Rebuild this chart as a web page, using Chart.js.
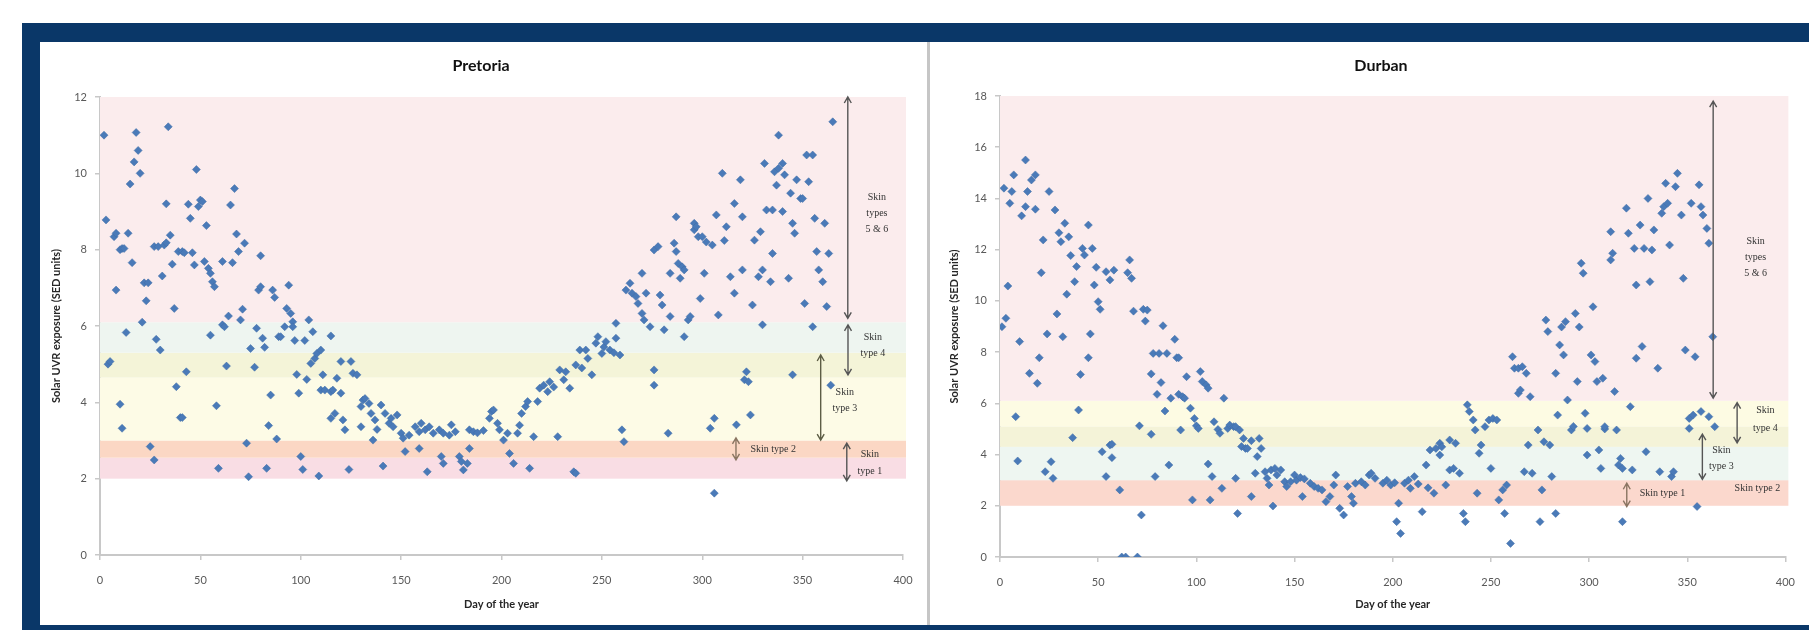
<!DOCTYPE html>
<html>
<head>
<meta charset="utf-8">
<script src="https://cdn.jsdelivr.net/npm/chart.js@4.4.1/dist/chart.umd.min.js"></script>
<style>
  html, body { margin: 0; padding: 0; background: #fff; }
  #page { position: relative; width: 1809px; height: 630px; overflow: hidden; background: #fff; }
  #frame { position: absolute; left: 22px; top: 23px; width: 1787px; height: 607px; background: #0a3768; }
  .panel { position: absolute; top: 42px; height: 583px; background: #fff; }
  #p1 { left: 40px; width: 887px; }
  #p2 { left: 930px; width: 879px; }
  #divider { position: absolute; left: 927px; top: 42px; width: 3px; height: 583px; background: #c6c6c6; }
</style>
</head>
<body>
<div id="page">
  <div id="frame"></div>
  <div class="panel" id="p1"><canvas id="pretoria" width="887" height="583"></canvas></div>
  <div id="divider"></div>
  <div class="panel" id="p2"><canvas id="durban" width="879" height="583"></canvas></div>
</div>
<script>
// ---- data ----
// Pretoria : day of year / daily SED
const pretoriaDay = [2,3,4,5,7,8,8,10,10,11,11,12,13,14,15,16,17,18,19,20,21,22,23,24,25,27,27,28,29,30,31,32,33,33,34,35,36,37,38,39,40,41,41,42,43,44,45,46,47,48,49,50,51,52,53,54,55,55,56,57,58,59,61,61,62,63,64,65,66,67,68,69,70,71,72,73,74,75,77,78,79,80,80,81,82,83,84,85,86,87,88,89,90,92,93,94,95,96,96,97,98,99,100,101,102,103,104,105,106,107,108,109,110,110,111,112,115,115,115,116,117,118,120,120,121,122,124,125,126,128,130,130,131,132,134,135,136,137,138,140,141,142,144,145,146,148,150,151,152,154,157,159,159,160,162,163,164,166,169,170,171,171,174,175,177,179,180,181,183,184,184,186,188,191,194,195,196,198,199,201,203,204,206,208,209,210,212,213,214,216,218,219,221,223,224,226,228,229,231,232,234,236,237,237,239,240,242,243,245,247,248,250,251,252,254,256,257,257,259,260,261,262,264,265,267,268,270,270,271,272,274,276,276,276,278,279,280,281,283,284,284,286,287,287,288,289,290,291,291,293,294,296,296,297,298,299,300,301,302,304,305,306,306,307,308,310,311,312,314,316,316,317,319,320,320,321,322,323,324,325,326,328,329,330,330,331,332,334,335,335,336,337,338,338,340,340,341,343,344,345,345,346,347,349,350,351,352,353,355,355,356,357,358,360,361,362,363,364,365];
const pretoriaSED = [11.0,8.78,5.0,5.07,8.34,8.43,6.94,8.0,3.95,3.32,8.03,8.03,5.83,8.43,9.72,7.66,10.3,11.07,10.6,10.0,6.1,7.13,6.66,7.13,2.84,2.49,8.08,5.65,8.08,5.37,7.31,8.12,8.18,9.2,11.22,8.38,7.62,6.46,4.41,7.95,3.6,3.6,7.95,7.92,4.8,9.19,8.82,7.92,7.6,10.1,9.13,9.3,9.26,7.69,8.63,7.51,7.38,5.76,7.16,7.03,3.91,2.27,6.03,7.69,5.98,4.95,6.26,9.17,7.66,9.6,8.41,7.95,6.16,6.44,8.17,2.93,2.05,5.41,4.92,5.94,6.94,7.03,7.84,5.68,5.44,2.27,3.39,4.19,6.94,6.75,3.04,5.72,5.72,5.98,6.46,7.07,6.33,6.11,5.98,5.62,4.73,4.24,2.58,2.24,5.62,4.6,6.16,5.02,5.85,5.15,5.28,2.07,4.32,5.37,4.72,4.32,4.28,3.58,5.74,4.32,3.71,4.63,4.24,5.07,3.54,3.28,2.24,5.07,4.76,4.72,3.89,3.36,4.06,4.1,3.97,3.71,3.01,3.54,3.29,3.93,2.33,3.71,3.45,3.58,3.36,3.67,3.19,3.06,2.71,3.14,3.36,3.23,2.79,3.45,3.28,2.18,3.36,3.19,3.28,2.58,3.19,2.4,3.14,3.41,3.23,2.58,2.45,2.23,2.4,2.79,3.28,3.23,3.2,3.26,3.58,3.76,3.8,3.45,3.28,3.01,3.19,2.66,2.4,3.19,3.4,3.71,3.89,4.02,2.27,3.1,4.02,4.37,4.45,4.28,4.54,4.4,3.1,4.85,4.59,4.8,4.37,2.18,2.14,4.98,5.37,4.9,5.37,5.15,4.72,5.55,5.72,5.28,5.45,5.59,5.37,5.3,6.07,5.68,5.24,3.28,2.97,6.94,7.12,6.86,6.77,6.59,7.38,6.33,6.16,6.86,5.98,4.45,4.85,7.99,8.08,6.81,6.55,5.9,3.19,6.25,7.38,8.17,8.86,7.95,7.64,7.25,7.55,7.47,5.72,6.16,6.25,8.52,8.69,8.6,8.34,6.72,8.34,7.38,8.2,3.32,8.12,1.62,3.58,8.91,6.29,10.0,8.24,8.6,7.29,9.21,6.86,3.41,9.83,8.86,7.47,4.59,4.8,4.54,3.67,6.55,8.25,7.29,8.47,7.47,6.03,10.26,9.04,7.16,9.04,7.9,10.04,9.69,10.13,11.0,9.0,10.26,9.96,7.25,9.48,8.69,4.72,8.43,9.83,9.34,9.34,6.59,10.48,9.78,5.98,10.48,8.82,7.95,7.47,7.16,8.69,6.51,7.9,4.45,11.35];

// Durban : day of year / daily SED
const durbanDay = [1,2,3,4,5,6,7,8,9,10,11,13,13,14,15,16,18,18,19,20,21,22,23,24,25,26,27,28,29,30,31,32,33,34,35,36,37,38,39,40,41,42,43,45,45,46,47,48,49,50,51,52,54,54,56,56,57,57,58,61,62,64,65,66,67,68,70,71,72,73,74,75,77,77,78,79,80,81,82,83,84,85,86,87,89,90,91,91,92,93,94,95,97,98,99,100,101,102,103,105,106,106,107,108,109,111,112,113,114,116,117,119,120,120,121,122,123,124,125,126,128,128,130,131,132,133,135,136,137,138,139,140,141,143,145,146,148,150,151,153,154,155,158,160,162,164,166,168,170,171,173,175,177,179,180,181,184,186,188,189,191,195,197,199,201,202,203,204,206,208,209,211,213,215,217,218,219,221,222,224,224,225,227,229,229,231,232,234,236,237,238,239,241,242,243,244,245,247,249,250,251,253,254,256,257,258,260,261,262,264,264,265,266,267,268,269,270,271,274,275,276,277,278,279,280,281,283,283,284,285,286,287,288,289,291,292,293,294,295,296,297,298,299,299,301,302,303,304,305,306,307,308,308,311,311,312,313,314,315,316,317,317,319,320,321,322,323,324,324,326,327,328,329,330,331,332,333,335,336,337,338,339,340,341,342,343,344,345,347,348,349,351,351,352,353,354,355,356,357,357,358,360,361,361,363,364];
const durbanSED = [8.99,14.4,9.32,10.58,13.81,14.27,14.92,5.48,3.75,8.41,13.32,15.5,13.68,14.27,7.17,14.72,14.92,13.58,6.78,7.78,11.1,12.38,3.33,8.71,14.27,3.72,3.07,13.55,9.49,12.66,12.31,8.6,13.03,10.26,12.5,11.77,4.66,10.75,11.34,5.74,7.13,12.05,11.79,7.78,12.96,8.71,12.05,10.62,11.31,9.97,9.67,4.11,3.14,11.14,4.37,10.82,4.4,3.88,11.2,2.62,0,0,11.1,11.6,10.88,9.6,0,5.12,1.64,9.67,9.21,9.64,4.79,7.15,7.95,3.14,6.35,7.95,6.81,9.03,5.7,7.95,3.59,6.2,8.5,7.78,7.78,6.35,4.96,6.26,6.2,7.04,5.81,2.23,5.41,5.12,5.02,7.24,6.85,6.72,3.63,6.59,2.23,3.14,5.28,4.98,4.83,2.68,6.2,5.02,5.15,5.09,5.09,3.07,1.7,4.96,4.31,4.63,4.24,4.24,4.54,2.36,3.27,3.92,4.63,4.24,3.33,3.07,2.81,3.4,1.99,3.46,3.2,3.4,2.94,2.75,2.94,3.2,3.0,3.1,2.36,3.05,2.88,2.75,2.68,2.62,2.16,2.36,2.81,3.2,1.9,1.64,2.75,2.36,2.1,2.88,2.94,2.81,3.2,3.27,3.07,2.88,3.0,2.81,2.9,1.38,2.1,0.92,2.88,3.0,2.68,3.14,2.85,1.77,3.59,2.7,4.18,2.49,4.24,3.98,4.44,4.3,2.81,4.57,3.4,3.46,4.44,3.27,1.7,1.38,5.94,5.68,5.35,4.96,2.49,4.05,4.37,5.09,5.35,3.46,5.41,5.35,2.23,2.62,1.7,2.81,0.53,7.82,7.37,7.37,6.39,6.52,7.43,3.33,7.17,4.37,6.26,3.27,4.96,1.38,2.62,4.5,9.25,8.8,4.37,3.14,1.7,7.17,5.54,8.28,8.98,7.89,9.19,6.13,4.96,5.1,9.51,6.85,8.98,11.47,11.08,5.61,5.02,3.98,7.89,9.77,7.63,6.85,4.18,3.46,6.98,5.0,5.09,12.7,11.6,11.86,6.46,4.96,3.59,3.85,1.38,3.46,13.62,12.64,5.87,3.4,12.05,10.62,7.76,12.96,8.22,12.05,4.11,14.0,10.75,11.99,12.77,7.37,3.33,13.42,13.68,14.59,13.81,12.18,3.14,3.33,14.46,14.98,13.35,10.88,8.08,5.41,5.02,13.81,5.54,7.82,1.97,14.53,13.68,5.68,13.35,12.83,12.25,5.48,8.6,5.09];

// skin-type zones (SED ranges)
const pretoriaZoneFrom = [2, 2.55, 3, 4.65, 5.3, 6.1];
const pretoriaZoneTo   = [2.55, 3, 4.65, 5.3, 6.1, 12];
const durbanZoneFrom   = [2, 3, 4.3, 5.1, 6.1];
const durbanZoneTo     = [3, 4.3, 5.1, 6.1, 18];

// arrows: day, from SED, to SED
const pretoriaArrowDay  = [372.5, 372.6, 359, 316.8, 372];
const pretoriaArrowFrom = [12, 6.03, 5.24, 3.07, 2.93];
const pretoriaArrowTo   = [6.2, 4.72, 3.01, 2.49, 1.94];
const durbanArrowDay  = [363.2, 375.4, 357.7, 319.2];
const durbanArrowFrom = [17.8, 6.03, 4.8, 2.88];
const durbanArrowTo   = [6.2, 4.46, 3.03, 1.97];

// zone labels
const pretoriaNoteText = ['Skin', 'types', '5 & 6', 'Skin', 'type 4', 'Skin', 'type 3', 'Skin type 2', 'Skin', 'type 1'];
const pretoriaNoteDay  = [387, 387, 387, 385, 385, 371, 371, 324, 383.5, 383.5];
const pretoriaNoteSED  = [9.38, 8.96, 8.54, 5.71, 5.29, 4.27, 3.85, 2.77, 2.64, 2.18];
const durbanNoteText = ['Skin', 'types', '5 & 6', 'Skin', 'type 4', 'Skin', 'type 3', 'Skin type 2', 'Skin type 1'];
const durbanNoteDay  = [384.8, 384.8, 384.8, 389.8, 389.8, 367.4, 367.4, 385.7, 325.8];
const durbanNoteSED  = [12.31, 11.7, 11.08, 5.71, 5.02, 4.18, 3.53, 2.68, 2.49];

// ---- plugin: zones, arrows, notes, title ----
const zones = {
  id: 'zones',
  beforeDatasetsDraw(chart, args, o) {
    const {ctx, scales: {x, y}} = chart;
    ctx.save();
    o.from.forEach((f, i) => {
      const x0 = x.getPixelForValue(0), x1 = x.getPixelForValue(o.xEnd);
      const y0 = y.getPixelForValue(o.to[i]), y1 = y.getPixelForValue(f);
      ctx.fillStyle = o.colors[i];
      ctx.fillRect(x0, y0, x1 - x0, y1 - y0);
    });
    ctx.restore();
  },
  afterDatasetsDraw(chart, args, o) {
    const {ctx, scales: {x, y}} = chart;
    ctx.save();
    ctx.lineWidth = 1.4;
    o.arrowDay.forEach((d, i) => {
      const px = x.getPixelForValue(d);
      const ya = y.getPixelForValue(o.arrowFrom[i]), yb = y.getPixelForValue(o.arrowTo[i]);
      ctx.strokeStyle = o.arrowColors[i] || '#555';
      ctx.beginPath();
      ctx.moveTo(px, ya); ctx.lineTo(px, yb);
      const dir = yb > ya ? 1 : -1;
      ctx.moveTo(px - 3.5, ya + dir * 6); ctx.lineTo(px, ya); ctx.lineTo(px + 3.5, ya + dir * 6);
      ctx.moveTo(px - 3.5, yb - dir * 6); ctx.lineTo(px, yb); ctx.lineTo(px + 3.5, yb - dir * 6);
      ctx.stroke();
    });
    ctx.fillStyle = '#333';
    ctx.font = '10px "Liberation Serif"';
    ctx.textBaseline = 'middle';
    o.noteText.forEach((t, i) => {
      // most notes are centred, a few start at the given day
      ctx.textAlign = o.leftNotes.includes(i) ? 'left' : 'center';
      ctx.fillText(t, x.getPixelForValue(o.noteDay[i]), y.getPixelForValue(o.noteSED[i]));
    });
    ctx.restore();
  },
  afterDraw(chart, args, o) {
    const {ctx} = chart;
    ctx.save();
    ctx.fillStyle = '#111';
    ctx.font = 'bold 16px Lato';
    ctx.textAlign = 'center';
    ctx.textBaseline = 'middle';
    ctx.fillText(o.title, o.titleX, 24);
    ctx.restore();
  }
};

function axisFont(size, bold) {
  return {family: 'Lato', size: size, weight: bold ? 'bold' : 'normal'};
}

function makeChart(id, cfg) {
  return new Chart(document.getElementById(id), {
    type: 'scatter',
    data: {
      datasets: [{
        data: cfg.day.map((d, i) => ({x: d, y: cfg.sed[i]})),
        pointStyle: 'rectRot',
        pointRadius: 4,
        backgroundColor: '#4a7ab8',
        borderColor: '#3d6aa5',
        borderWidth: 0.5
      }]
    },
    options: {
      responsive: false,
      animation: false,
      layout: {padding: {left: cfg.padL, right: cfg.padR, top: cfg.padT, bottom: 0}},
      plugins: {
        legend: {display: false},
        tooltip: {enabled: false},
        zones: cfg.zones
      },
      scales: {
        x: {
          type: 'linear', min: 0, max: 400,
          ticks: {stepSize: 50, color: '#595959', font: axisFont(11), padding: 14, maxRotation: 0},
          grid: {drawOnChartArea: false, tickLength: 5, color: '#c8c8c8', lineWidth: 1.5},
          border: {color: '#c8c8c8', width: 2},
          title: {display: true, text: 'Day of the year', color: '#262626', font: axisFont(11, true), padding: {top: 4, bottom: 14}},
          afterFit(s) { s.height = cfg.xh; }
        },
        y: {
          min: 0, max: cfg.ymax,
          ticks: {stepSize: 2, color: '#595959', font: axisFont(11), padding: 8},
          grid: {drawOnChartArea: false, tickLength: 5, color: '#c8c8c8', lineWidth: 1.5},
          border: {color: '#c8c8c8', width: 2},
          title: {display: true, text: 'Solar UVR exposure (SED units)', color: '#262626', font: axisFont(11, true), padding: {top: 4, bottom: 4}},
          afterFit(s) { s.width = cfg.yw; }
        }
      }
    },
    plugins: [zones]
  });
}

makeChart('pretoria', {
  day: pretoriaDay, sed: pretoriaSED, ymax: 12,
  padL: 6, padR: 24, padT: 55, xh: 70, yw: 54,
  zones: {
    title: 'Pretoria', titleX: 441, xEnd: 401.5,
    from: pretoriaZoneFrom, to: pretoriaZoneTo,
    colors: ['#f9dde4', '#fbd7c4', '#fdfbe6', '#f4f4d8', '#eef5f0', '#fbeced'],
    arrowDay: pretoriaArrowDay, arrowFrom: pretoriaArrowFrom, arrowTo: pretoriaArrowTo,
    arrowColors: ['#555', '#555', '#5d5d45', '#8a7562', '#555'],
    noteText: pretoriaNoteText, noteDay: pretoriaNoteDay, noteSED: pretoriaNoteSED,
    leftNotes: [7]
  }
});

makeChart('durban', {
  day: durbanDay, sed: durbanSED, ymax: 18,
  padL: 14, padR: 7, padT: 54, xh: 68, yw: 56,
  zones: {
    title: 'Durban', titleX: 451, xEnd: 401.5,
    from: durbanZoneFrom, to: durbanZoneTo,
    colors: ['#fbd8cd', '#eef6f1', '#f4f3d8', '#fdfbe3', '#fbeced'],
    arrowDay: durbanArrowDay, arrowFrom: durbanArrowFrom, arrowTo: durbanArrowTo,
    arrowColors: ['#555', '#555', '#555', '#8a7562'],
    noteText: durbanNoteText, noteDay: durbanNoteDay, noteSED: durbanNoteSED,
    leftNotes: [8]
  }
});
</script>
</body>
</html>
